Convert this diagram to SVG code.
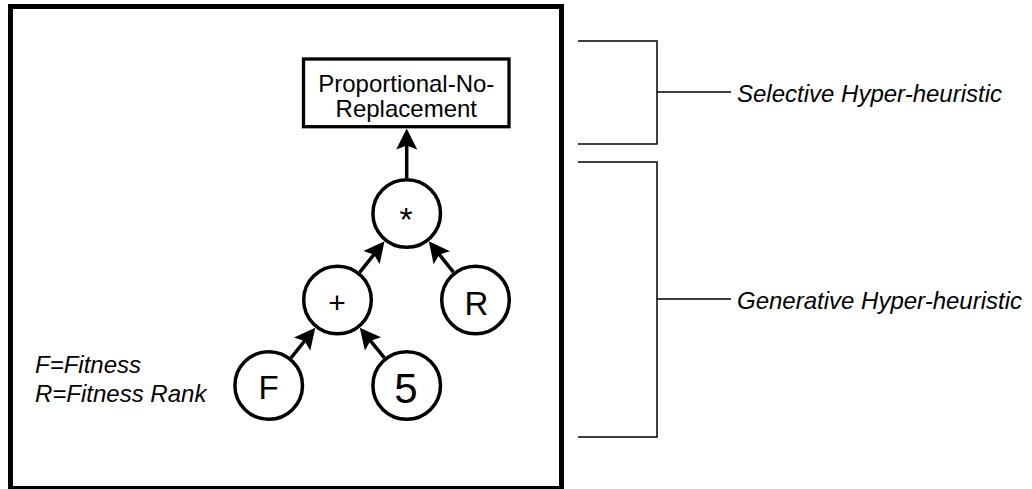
<svg xmlns="http://www.w3.org/2000/svg" width="1032" height="489" viewBox="0 0 1032 489">
<style>
text{font-family:"Liberation Sans",Arial,Helvetica,sans-serif;fill:#000}
.it{font-style:italic;font-size:24px}
.node circle{fill:#fff;stroke:#000;stroke-width:3.5}
.conn{stroke:#000;stroke-width:3.5;fill:none}
.br{stroke:#000;stroke-width:1.5;fill:none}
</style>
<defs>
<marker id="ah" viewBox="0 0 21 21" refX="11" refY="10.5" markerWidth="21" markerHeight="21" markerUnits="userSpaceOnUse" orient="auto">
<path d="M0,0 L21,10.5 L0,21 L4,10.5 Z" fill="#000"/>
</marker>
</defs>
<rect width="1032" height="489" fill="#fff"/>
<rect id="frame" x="10.5" y="6.5" width="551" height="482" fill="none" stroke="#000" stroke-width="5"/>

<g id="connectors">
<line class="conn" x1="406.7" y1="178" x2="406.7" y2="138.5" marker-end="url(#ah)"/>
<line class="conn" x1="359.7" y1="272.3" x2="378.3" y2="249" marker-end="url(#ah)"/>
<line class="conn" x1="453.4" y1="272.2" x2="435" y2="249.1" marker-end="url(#ah)"/>
<line class="conn" x1="291" y1="357.8" x2="309" y2="335.5" marker-end="url(#ah)"/>
<line class="conn" x1="384.4" y1="357.9" x2="366.1" y2="335.4" marker-end="url(#ah)"/>
</g>

<g id="root">
<rect x="303.5" y="59" width="205.5" height="67.7" fill="#fff" stroke="#000" stroke-width="3.3"/>
<text x="406.3" y="92" font-size="24" text-anchor="middle">Proportional-No-</text>
<text x="406.3" y="117" font-size="24" text-anchor="middle">Replacement</text>
</g>
<g id="mul" class="node">
<circle cx="406.7" cy="213.5" r="33.8"/>
<text x="406" y="231" font-size="34" text-anchor="middle">*</text>
</g>
<g id="plus" class="node">
<circle cx="337.5" cy="300" r="33.8"/>
<text x="337" y="313" font-size="30" text-anchor="middle">+</text>
</g>
<g id="rank" class="node">
<circle cx="475.5" cy="300" r="33.8"/>
<text x="476.5" y="315" font-size="33" text-anchor="middle">R</text>
</g>
<g id="fit" class="node">
<circle cx="268.7" cy="385.5" r="33.8"/>
<text x="268.5" y="399" font-size="33" text-anchor="middle">F</text>
</g>
<g id="five" class="node">
<circle cx="406.7" cy="385.5" r="33.8"/>
<text x="406" y="403" font-size="42" text-anchor="middle">5</text>
</g>

<g id="legend">
<text class="it" x="35" y="373">F=Fitness</text>
<text class="it" x="35" y="402">R=Fitness Rank</text>
</g>

<g id="selective">
<path class="br" d="M578,41 H657 V144 H578 M657,92 H731"/>
<text class="it" x="737" y="102">Selective Hyper-heuristic</text>
</g>
<g id="generative">
<path class="br" d="M578,162 H657 V437 H578 M657,299 H731"/>
<text class="it" x="737" y="309">Generative Hyper-heuristic</text>
</g>
</svg>
